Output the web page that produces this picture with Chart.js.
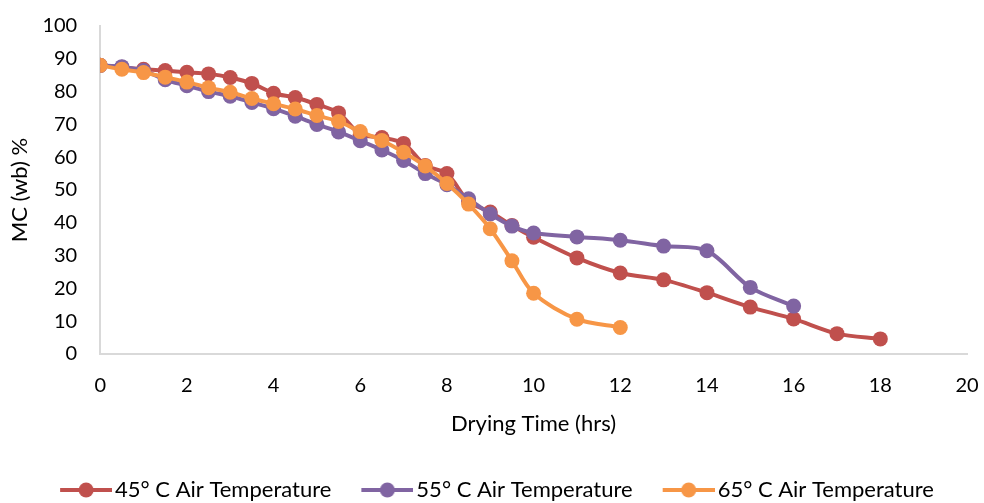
<!DOCTYPE html>
<html>
<head>
<meta charset="utf-8">
<script src="https://cdn.jsdelivr.net/npm/chart.js@4/dist/chart.umd.min.js"></script>
<style>
  html, body { margin: 0; padding: 0; background: #fff; }
  #wrap { width: 984px; height: 503px; }
</style>
</head>
<body>
<div id="wrap"><canvas id="dryChart"></canvas></div>
<script>
// Moisture content vs drying time for three air temperatures

const seriesNames = ['45\u00b0 C Air Temperature', '55\u00b0 C Air Temperature', '65\u00b0 C Air Temperature'];
const seriesColors = ['#C0504D', '#8064A2', '#F79646'];

const hours45 = [0, 0.5, 1, 1.5, 2, 2.5, 3, 3.5, 4, 4.5, 5, 5.5, 6, 6.5, 7, 7.5, 8, 8.5, 9, 9.5, 10, 11, 12, 13, 14, 15, 16, 17, 18];
const mc45 = [88, 87.4, 86.8, 86.4, 85.9, 85.4, 84.3, 82.5, 79.5, 78.2, 76.1, 73.5, 67, 66, 64.2, 57.5, 55, 46.5, 43.3, 39.2, 35.6, 29.3, 24.7, 22.6, 18.7, 14.3, 10.7, 6.2, 4.6];

const hours55 = [0, 0.5, 1, 1.5, 2, 2.5, 3, 3.5, 4, 4.5, 5, 5.5, 6, 6.5, 7, 7.5, 8, 8.5, 9, 9.5, 10, 11, 12, 13, 14, 15, 16];
const mc55 = [88, 87.6, 86.4, 83.6, 81.8, 80, 78.6, 76.7, 74.8, 72.5, 70, 67.7, 65, 62.2, 59, 55, 51.6, 47.3, 42.7, 39, 36.9, 35.7, 34.7, 32.9, 31.5, 20.3, 14.6];

const hours65 = [0, 0.5, 1, 1.5, 2, 2.5, 3, 3.5, 4, 4.5, 5, 5.5, 6, 6.5, 7, 7.5, 8, 8.5, 9, 9.5, 10, 11, 12];
const mc65 = [88, 86.8, 85.8, 84.4, 82.9, 81.2, 79.8, 77.9, 76.3, 74.7, 72.7, 70.9, 67.8, 65.1, 61.5, 57.3, 52, 45.7, 38.2, 28.4, 18.5, 10.6, 8.1];

const xTicks = [0, 2, 4, 6, 8, 10, 12, 14, 16, 18, 20];
const yTicks = [0, 10, 20, 30, 40, 50, 60, 70, 80, 90, 100];

const allHours = [hours45, hours55, hours65];
const allMc = [mc45, mc55, mc65];

const fontFamily = 'Lato, "Open Sans", sans-serif';
const axisGray = '#D9D9D9';

// line + dot icon for the legend; drawn off-centre so the line sits right next to the text
function legendIcon(color) {
    const c = document.createElement('canvas');
    c.width = 80;
    c.height = 18;
    const g = c.getContext('2d');
    g.strokeStyle = color;
    g.lineWidth = 4;
    g.beginPath();
    g.moveTo(28, 9);
    g.lineTo(80, 9);
    g.stroke();
    g.fillStyle = color;
    g.beginPath();
    g.arc(54, 9, 7.5, 0, Math.PI * 2);
    g.fill();
    return c;
}

// invisible grid, used only for the tick length (spacing between axis and labels)
function hiddenGrid(len) {
    return {
        display: true,
        drawOnChartArea: false,
        drawTicks: true,
        tickLength: len,
        color: 'rgba(0,0,0,0)',
        tickColor: 'rgba(0,0,0,0)'
    };
}

const datasets = seriesNames.map((name, i) => ({
    label: name,
    data: allHours[i].map((h, j) => ({ x: h, y: allMc[i][j] })),
    borderColor: seriesColors[i],
    backgroundColor: seriesColors[i],
    borderWidth: 4,
    pointRadius: 7.5,
    pointHoverRadius: 7.5,
    pointBorderWidth: 0,
    tension: 0.3,
    fill: false,
    order: 3 - i
}));

const ctx = document.getElementById('dryChart').getContext('2d');
const dryChart = new Chart(ctx, {
    type: 'line',
    data: { datasets: datasets },
    options: {
        animation: false,
        responsive: true,
        maintainAspectRatio: false,
        layout: { padding: { top: 26, right: 17, left: 7, bottom: -8 } },
        plugins: {
            tooltip: { enabled: false },
            legend: {
                position: 'bottom',
                labels: {
                    usePointStyle: true,
                    pointStyleWidth: 64,
                    padding: 10,
                    color: '#000',
                    font: { family: fontFamily, size: 22 },
                    sort: (a, b) => a.datasetIndex - b.datasetIndex,
                    generateLabels: (chart) => {
                        const items = Chart.defaults.plugins.legend.labels.generateLabels(chart);
                        items.forEach(item => {
                            item.pointStyle = legendIcon(seriesColors[item.datasetIndex]);
                        });
                        return items;
                    }
                }
            }
        },
        scales: {
            x: {
                type: 'linear',
                min: 0,
                max: 20,
                afterBuildTicks: axis => { axis.ticks = xTicks.map(v => ({ value: v })); },
                grid: hiddenGrid(20),
                border: { display: true, color: axisGray, width: 2 },
                ticks: { color: '#000', font: { family: fontFamily, size: 20 }, padding: 0 },
                title: {
                    display: true,
                    text: 'Drying Time (hrs)',
                    color: '#000',
                    font: { family: fontFamily, size: 22 },
                    padding: { top: 12.8, bottom: 31.8 }
                }
            },
            y: {
                min: 0,
                max: 100,
                afterBuildTicks: axis => { axis.ticks = yTicks.map(v => ({ value: v })); },
                grid: hiddenGrid(23),
                border: { display: true, color: axisGray, width: 2 },
                ticks: { color: '#000', font: { family: fontFamily, size: 20 }, padding: 0 },
                title: {
                    display: true,
                    text: 'MC (wb) %',
                    color: '#000',
                    font: { family: fontFamily, size: 22 },
                    padding: { top: 0, bottom: 9 }
                }
            }
        }
    }
});
</script>
</body>
</html>
